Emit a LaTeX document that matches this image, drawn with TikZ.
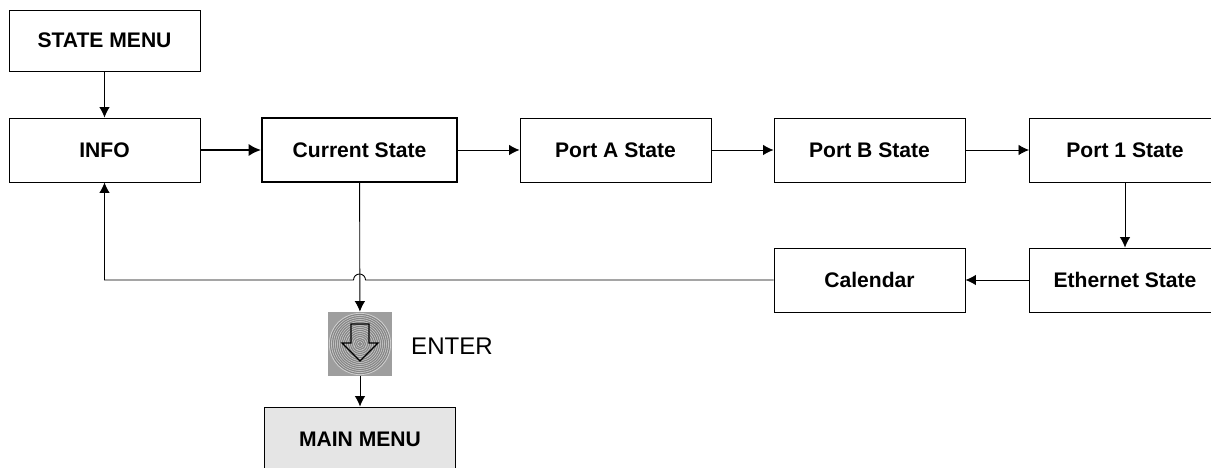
\documentclass[tikz,border=0pt]{standalone}
\usepackage{fontspec}
\setmainfont{Liberation Sans}
\usepackage{tikz}
\usetikzlibrary{arrows.meta, positioning}
\definecolor{menugray}{rgb}{0.9,0.9,0.9}
\definecolor{iconback}{rgb}{0.62,0.62,0.62}
\tikzstyle{stateblock} = [rectangle, draw, line width=.5pt, text centered, minimum width=3.82cm, minimum height=1.28cm, font=\fontsize{12}{14}\selectfont\bfseries]
\tikzstyle{connector} = [draw, line width=.5pt, -{Latex[length=6pt,width=6pt]}]
\tikzstyle{boldconnector} = [draw, line width=1.2pt, -{Latex[length=7pt,width=7pt]}]

\begin{document}
\begin{tikzpicture}
\useasboundingbox (0,0) rectangle (24.22,-9.36);

\node [stateblock, minimum height=1.22cm] at (2.09,-.81) (state_menu) {STATE MENU};

\node [stateblock] at (2.09,-3) (info) {INFO};
\node [stateblock, minimum width=3.9cm, line width=1.2pt] at (7.19,-3) (current) {Current State};
\node [stateblock] at (12.31,-3) (port_a) {Port A State};
\node [stateblock] at (17.39,-3) (port_b) {Port B State};
\node [stateblock] at (22.5,-3) (port_1) {Port 1 State};

\node [stateblock] at (22.5,-5.6) (ethernet) {Ethernet State};
\node [stateblock] at (17.39,-5.6) (calendar) {Calendar};

% enter key
\node [draw=none, fill=iconback, minimum size=1.28cm, inner sep=0pt] at (7.2,-6.88) (enter) {};
\fill [color=iconback!45!white] (enter.center) circle (.62);
\foreach \r in {.03,.07,...,.62}
  \draw [line width=.7pt, color=iconback!85!black] (enter.center) circle (\r);
\draw [line width=.7pt, shift={(enter.center)}] (-.18,.4) -- (.18,.4) -- (.18,.02) -- (.36,.02) -- (0,-.34) -- (-.36,.02) -- (-.18,.02) -- cycle;
\node [draw=none, font=\fontsize{13.7}{16}\selectfont] at (9.04,-6.92) (enter_text) {ENTER};

\node [stateblock, fill=menugray] at (7.2,-8.78) (main_menu) {MAIN MENU};

\path [connector] (state_menu) -- (info);
\path [boldconnector] (info) -- (current);
\path [connector] (current) -- (port_a);
\path [connector] (port_a) -- (port_b);
\path [connector] (port_b) -- (port_1);
\path [connector] (port_1) -- (ethernet);
\path [connector] (ethernet) -- (calendar);

\coordinate (jump) at (current |- calendar);
\path [connector] (calendar) -- ([xshift=.12cm]jump) arc (0:180:.12cm) -- (info |- calendar) -- (info);

\path [connector] (current) -- (enter);
\path [connector] (enter) -- (main_menu);

\end{tikzpicture}
\end{document}
